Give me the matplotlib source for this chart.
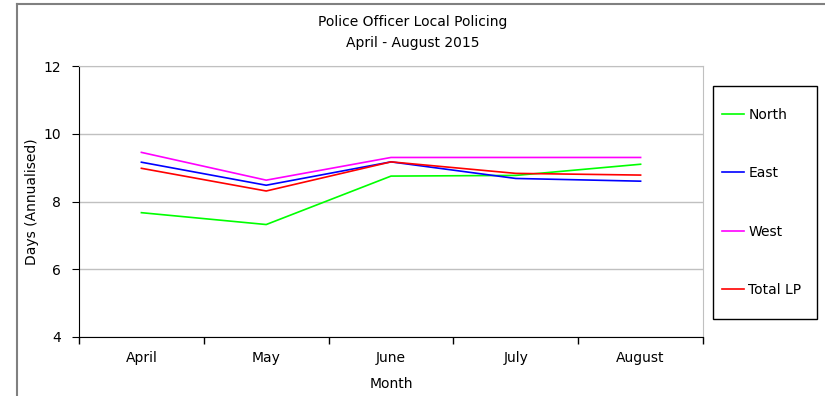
import matplotlib.pyplot as plt
from matplotlib.patches import Rectangle
from matplotlib.lines import Line2D

months = ['April', 'May', 'June', 'July', 'August']
north = [7.67, 7.32, 8.75, 8.77, 9.10]
east = [9.16, 8.48, 9.17, 8.68, 8.60]
west = [9.45, 8.63, 9.30, 9.30, 9.30]
total_lp = [8.98, 8.31, 9.17, 8.83, 8.78]

W, H = 825, 396
fig = plt.figure(figsize=(W / 100, H / 100), dpi=100)
ax = fig.add_axes([79 / W, 1 - 337 / H, (703 - 79) / W, (337 - 66) / H])

x = range(len(months))
ax.plot(x, north, color='#00ff00', lw=1.2, label='North')
ax.plot(x, east, color='#0000ff', lw=1.2, label='East')
ax.plot(x, west, color='#ff00ff', lw=1.2, label='West')
ax.plot(x, total_lp, color='#ff0000', lw=1.2, label='Total LP')

ax.set_xlim(-0.5, len(months) - 0.5)
ax.set_ylim(4, 12)
ax.set_yticks([4, 6, 8, 10, 12])
ax.set_xticks(list(x))
ax.set_xticklabels(months, fontsize=10)
ax.set_xticks([i - 0.5 for i in range(len(months) + 1)], minor=True)
ax.tick_params(axis='x', which='major', length=0, pad=10)
ax.tick_params(axis='x', which='minor', length=5, direction='out', width=1)
ax.tick_params(axis='y', length=5, direction='out', labelsize=10, pad=8)
ax.grid(axis='y', color='#c0c0c0', lw=1)
ax.set_axisbelow(True)
for s in ['top', 'right']:
    ax.spines[s].set_color('#c0c0c0')
for s in ['left', 'bottom']:
    ax.spines[s].set_color('black')
ax.set_xlabel('Month', fontsize=10, labelpad=9)
ax.set_ylabel('Days (Annualised)', fontsize=10, labelpad=3)

fig.text(0.5, 1 - 22 / H, 'Police Officer Local Policing', ha='center', va='center', fontsize=10)
fig.text(0.5, 1 - 43 / H, 'April - August 2015', ha='center', va='center', fontsize=10)

# chart area border (left and top edges visible)
fig.add_artist(Line2D([17 / W, 17 / W], [0, 1 - 4 / H], transform=fig.transFigure, color='#808080', lw=1.5))
fig.add_artist(Line2D([17 / W, 1], [1 - 4 / H, 1 - 4 / H], transform=fig.transFigure, color='#808080', lw=1.5))

# legend box
fig.add_artist(Rectangle((713 / W, 1 - 319 / H), (817 - 713) / W, (319 - 86) / H,
                         transform=fig.transFigure, fill=False, edgecolor='black', lw=1))
leg = fig.legend(loc='center left', bbox_to_anchor=(722 / W, 1 - 202.5 / H), frameon=False,
                 fontsize=10, labelspacing=3.2, handlelength=1.6, handletextpad=0.3,
                 borderpad=0, borderaxespad=0)

fig.savefig('out.png', dpi=100)
